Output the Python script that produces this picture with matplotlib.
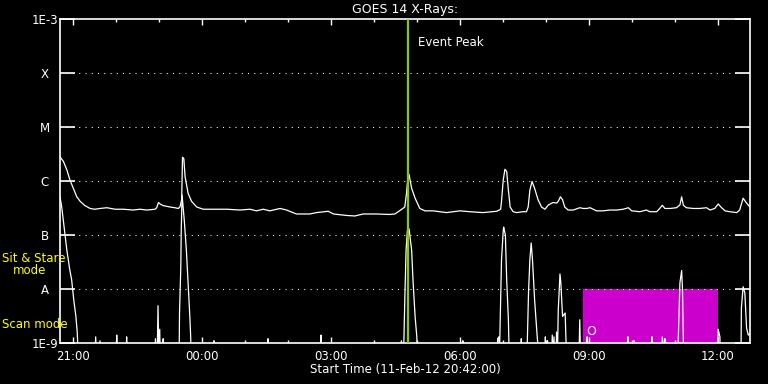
import numpy as np
import matplotlib
matplotlib.use("Agg")
import matplotlib.pyplot as plt
from matplotlib.ticker import FixedLocator, NullFormatter

# time in hours from 11-Feb-12 00:00 (so 24 = 00:00 next day)
t_long = [20.70, 20.78, 20.86, 20.93, 21.01, 21.09, 21.17, 21.28, 21.40, 21.51,
          21.63, 21.79, 21.98, 22.17, 22.40, 22.56, 22.72, 22.91, 22.95, 22.99,
          23.03, 23.10, 23.26, 23.37, 23.45, 23.49, 23.53, 23.55, 23.58, 23.61,
          23.68, 23.76, 23.88, 24.03, 24.27, 24.58, 24.89, 25.12, 25.27, 25.43,
          25.58, 25.82, 25.97, 26.20, 26.51, 26.67, 26.94, 27.06, 27.37, 27.56,
          27.75, 28.07, 28.37, 28.49, 28.65, 28.72, 28.76, 28.80, 28.82, 28.88,
          28.96, 29.07, 29.19, 29.38, 29.69, 30.00, 30.23, 30.54, 30.86, 30.95,
          30.97, 31.01, 31.05, 31.09, 31.13, 31.17, 31.24, 31.32, 31.47, 31.55,
          31.59, 31.63, 31.68, 31.74, 31.82, 31.90, 31.98, 32.06, 32.17, 32.25,
          32.29, 32.34, 32.39, 32.44, 32.52, 32.64, 32.79, 32.87, 32.95, 33.03,
          33.18, 33.33, 33.49, 33.65, 33.80, 33.92, 34.00, 34.19, 34.34, 34.42,
          34.58, 34.65, 34.71, 34.77, 34.89, 35.04, 35.12, 35.16, 35.20, 35.27,
          35.43, 35.58, 35.74, 35.82, 35.93, 36.01, 36.09, 36.17, 36.28, 36.44,
          36.51, 36.59, 36.67, 36.75]
f_long = [2.8e-6, 2.3e-6, 1.6e-6, 1.05e-6, 7.3e-7, 5.1e-7, 4.2e-7, 3.5e-7, 3.1e-7, 3.0e-7,
          3.1e-7, 3.2e-7, 3.0e-7, 3.0e-7, 2.9e-7, 3.0e-7, 2.9e-7, 3.0e-7, 3.2e-7, 4.0e-7,
          3.75e-7, 3.5e-7, 3.3e-7, 3.2e-7, 3.1e-7, 3.3e-7, 4.5e-7, 2.75e-6, 2.6e-6, 1.2e-6,
          5.9e-7, 4.2e-7, 3.3e-7, 3.0e-7, 3.0e-7, 3.0e-7, 2.9e-7, 3.0e-7, 2.8e-7, 3.0e-7,
          2.8e-7, 3.1e-7, 2.9e-7, 2.45e-7, 2.45e-7, 2.6e-7, 2.75e-7, 2.45e-7, 2.3e-7, 2.25e-7,
          2.45e-7, 2.45e-7, 2.4e-7, 2.45e-7, 3.0e-7, 3.3e-7, 5.9e-7, 1.4e-6, 1.3e-6, 7.3e-7,
          4.8e-7, 3.1e-7, 2.8e-7, 2.8e-7, 2.6e-7, 2.8e-7, 2.7e-7, 2.6e-7, 2.75e-7, 3.0e-7,
          4.2e-7, 1.05e-6, 1.65e-6, 1.5e-6, 6.8e-7, 3.3e-7, 2.7e-7, 2.6e-7, 2.7e-7, 2.7e-7,
          3.3e-7, 6.8e-7, 9.8e-7, 7.3e-7, 4.5e-7, 3.3e-7, 3.0e-7, 3.6e-7, 4.0e-7, 3.9e-7,
          4.2e-7, 5.1e-7, 4.5e-7, 3.3e-7, 2.9e-7, 2.9e-7, 3.2e-7, 3.1e-7, 3.1e-7, 3.2e-7,
          2.8e-7, 2.8e-7, 2.9e-7, 2.9e-7, 3.0e-7, 3.2e-7, 2.8e-7, 2.7e-7, 2.9e-7, 2.7e-7,
          2.7e-7, 3.1e-7, 3.55e-7, 3.1e-7, 3.1e-7, 3.2e-7, 3.6e-7, 5.1e-7, 3.55e-7, 3.2e-7,
          3.1e-7, 3.1e-7, 3.2e-7, 2.9e-7, 3.1e-7, 3.75e-7, 3.2e-7, 2.8e-7, 2.7e-7, 2.6e-7,
          2.9e-7, 4.8e-7, 3.9e-7, 3.3e-7]

# short channel, 5e-10 = below the plot floor
t_short = [20.70, 20.74, 20.86, 20.93, 20.97, 21.02, 21.07, 21.10, 21.13,
           21.51, 21.53, 21.55, 21.62, 21.63, 21.65, 22.01, 22.02, 22.03,
           22.24, 22.25, 22.26, 22.91, 22.92, 22.94, 22.96, 22.98, 23.00,
           23.02, 23.03, 23.09, 23.10, 23.11, 23.47, 23.48, 23.51, 23.52,
           23.54, 23.59, 23.64, 23.68, 23.72, 23.74, 23.75, 24.27, 24.28,
           24.29, 25.53, 25.54, 25.55, 26.76, 26.77, 26.78, 28.63, 28.64,
           28.69, 28.72, 28.75, 28.78, 28.82, 28.88, 28.91, 28.96, 29.00,
           29.01, 30.06, 30.07, 30.08, 30.87, 30.88, 30.91, 30.92, 30.97,
           31.01, 31.02, 31.06, 31.09, 31.13, 31.15, 31.42, 31.43, 31.44,
           31.56, 31.60, 31.63, 31.66, 31.69, 31.74, 31.79, 31.84, 31.98,
           31.99, 32.00, 32.03, 32.04, 32.05, 32.14, 32.15, 32.17, 32.19,
           32.21, 32.24, 32.25, 32.27, 32.29, 32.33, 32.35, 32.39, 32.45,
           32.47, 32.48, 32.77, 32.79, 32.81, 32.95, 32.96, 32.97, 33.90,
           33.91, 33.92, 34.04, 34.05, 34.06, 34.46, 34.47, 34.48, 34.70,
           34.71, 34.76, 34.77, 34.78, 35.07, 35.08, 35.11, 35.12, 35.16,
           35.18, 35.20, 35.21, 36.00, 36.01, 36.05, 36.06, 36.54, 36.55,
           36.59, 36.63, 36.67, 36.71, 36.75]
f_short = [5.1e-7, 3.3e-7, 5.2e-8, 2.2e-8, 1.5e-8, 6.3e-9, 3.1e-9, 1.6e-9, 5e-10,
           5e-10, 1.3e-9, 5e-10, 5e-10, 1.1e-9, 5e-10, 5e-10, 1.4e-9, 5e-10,
           5e-10, 1.3e-9, 5e-10, 5e-10, 1.2e-9, 5e-10, 5e-10, 4.9e-9, 5e-10,
           1.8e-9, 5e-10, 5e-10, 1.2e-9, 5e-10, 5e-10, 3.6e-9, 2.6e-8, 1.2e-7,
           5.5e-7, 1.9e-7, 5.2e-8, 1.3e-8, 3.1e-9, 1.3e-9, 5e-10, 5e-10, 1.1e-9,
           5e-10, 5e-10, 1.2e-9, 5e-10, 5e-10, 1.4e-9, 5e-10, 5e-10, 1.1e-9,
           5e-10, 6.3e-9, 5.2e-8, 1.2e-7, 1.3e-7, 5.2e-8, 1.5e-8, 3.1e-9, 1.3e-9,
           5e-10, 5e-10, 1.1e-9, 5e-10, 5e-10, 1.2e-9, 1.3e-9, 5e-10, 3.5e-8,
           1.2e-7, 1.4e-7, 1.0e-7, 1.5e-8, 2.7e-9, 5e-10, 5e-10, 1.2e-9, 5e-10,
           5e-10, 9.6e-9, 3.5e-8, 7.1e-8, 3.5e-8, 6.3e-9, 1.7e-9, 5e-10, 5e-10,
           1.3e-9, 5e-10, 5e-10, 1.1e-9, 5e-10, 5e-10, 1.4e-9, 5e-10, 1.3e-9,
           5e-10, 5e-10, 1.6e-9, 5e-10, 4.1e-9, 1.9e-8, 1.3e-8, 3.1e-9, 3.6e-9,
           1.1e-9, 5e-10, 5e-10, 2.7e-9, 5e-10, 5e-10, 1.3e-9, 5e-10, 5e-10,
           1.3e-9, 5e-10, 5e-10, 1.1e-9, 5e-10, 5e-10, 1.3e-9, 5e-10, 5e-10,
           1.3e-9, 5e-10, 1.2e-9, 5e-10, 5e-10, 1.1e-9, 6.3e-9, 1.3e-8, 2.2e-8,
           9.6e-9, 1.1e-9, 5e-10, 5e-10, 1.8e-9, 1.3e-9, 5e-10, 5e-10, 4.5e-9,
           1.1e-8, 8.5e-9, 1.9e-9, 1.4e-9, 1.5e-9]

t_start, t_end = 20.70, 36.75
event_peak = 28.79
scan_block = (32.87, 36.0)   # magenta box
decades = [1e-9, 1e-8, 1e-7, 1e-6, 1e-5, 1e-4, 1e-3]
decade_labels = ["1E-9", "A", "B", "C", "M", "X", "1E-3"]
xmajor = [21, 24, 27, 30, 33, 36]
xlabels = ["21:00", "00:00", "03:00", "06:00", "09:00", "12:00"]
xminor = list(range(21, 37))

plt.rcParams['font.family'] = 'DejaVu Sans'
fig = plt.figure(figsize=(7.68, 3.84), dpi=100, facecolor='black')
ax = fig.add_axes([60/768, 1-343/384, 690/768, 324/384], facecolor='black')

ax.set_yscale('log')
ax.set_ylim(1e-9, 1e-3)
ax.set_xlim(t_start, t_end)

# scan mode box
ax.fill_between(scan_block, 1e-9, 1e-8, color='#cc00cc', lw=0, zorder=1)

for d in decades[1:-1]:
    ax.axhline(d, color='white', lw=0.75, ls=(0, (1, 5)), zorder=2)

ax.plot(t_long, f_long, color='white', lw=0.9, zorder=3)
ax.plot(t_short, f_short, color='white', lw=0.9, zorder=3)

ax.axvline(event_peak, color='#88cc00', lw=1.6, zorder=4)
ax.text(event_peak + 0.23, 3.6e-4, "Event Peak", color='white', fontsize=8.5,
        va='center', ha='left')
ax.text(33.05, 1.6e-9, "O", color='white', fontsize=9, va='center', ha='center')

for s in ax.spines.values():
    s.set_color('white')
    s.set_linewidth(1.2)

ax.yaxis.set_major_locator(FixedLocator(decades))
ax.yaxis.set_minor_locator(FixedLocator([]))
ax.set_yticklabels(decade_labels)
ax.tick_params(axis='y', which='major', direction='in', length=10.5, width=1.2,
               color='white', labelcolor='white', labelsize=8.5, pad=11,
               left=True, right=True)
for lb in ax.get_yticklabels():
    lb.set_ha('center')

ax.xaxis.set_major_locator(FixedLocator(xmajor))
ax.xaxis.set_minor_locator(FixedLocator(xminor))
ax.xaxis.set_minor_formatter(NullFormatter())
ax.set_xticklabels(xlabels)
ax.tick_params(axis='x', which='major', direction='in', length=4.5, width=1,
               color='white', labelcolor='white', labelsize=8.5, pad=5,
               top=True, bottom=True)
ax.tick_params(axis='x', which='minor', direction='in', length=2.3, width=1,
               color='white', top=True, bottom=True)

ax.set_title("GOES 14 X-Rays:", color='white', fontsize=9, pad=4)
ax.set_xlabel("Start Time (11-Feb-12 20:42:00)", color='white', fontsize=8.5,
              labelpad=0)

fig.text(2/768, 1-258/384, "Sit & Stare", color='yellow', fontsize=8.5,
         ha='left', va='center')
fig.text(13/768, 1-271/384, "mode", color='yellow', fontsize=8.5,
         ha='left', va='center')
fig.text(2/768, 1-324/384, "Scan mode", color='yellow', fontsize=8.5,
         ha='left', va='center')

fig.savefig("out.png", dpi=100, facecolor='black')
